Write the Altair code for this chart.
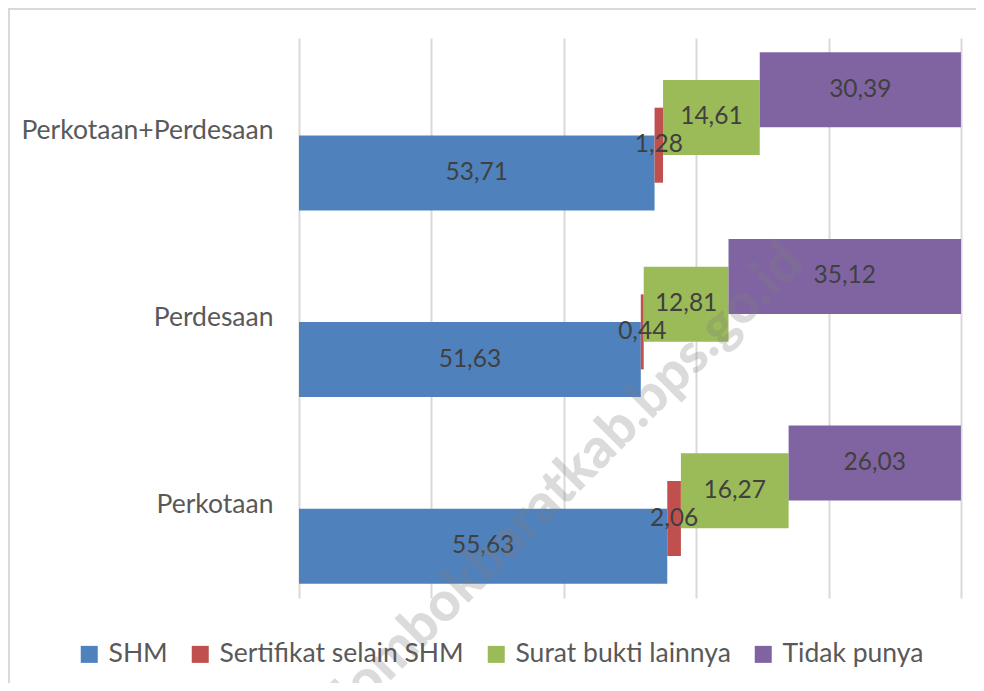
import altair as alt
import pandas as pd

categories = ["Perkotaan+Perdesaan", "Perdesaan", "Perkotaan"]
series = ["SHM", "Sertifikat selain SHM", "Surat bukti lainnya", "Tidak punya"]
colors = ["#4F81BD", "#C0504D", "#9BBB59", "#8064A2"]

shm = [53.71, 51.63, 55.63]
sertifikat = [1.28, 0.44, 2.06]
surat = [14.61, 12.81, 16.27]
tidak = [30.39, 35.12, 26.03]

grid_values = [0, 20, 40, 60, 80, 100]
watermark = "lombokbaratkab.bps.go.id"

rows = []
for s_i, (name, vals) in enumerate(zip(series, [shm, sertifikat, surat, tidak])):
    for c_i, cat in enumerate(categories):
        rows.append({"category": cat, "series": name, "value": vals[c_i], "order": s_i})
df = pd.DataFrame(rows)

FONT = "Lato"

base = alt.Chart(df).transform_window(
    cum="sum(value)", sort=[alt.SortField("order")], groupby=["category"], frame=[None, 0]
).transform_calculate(
    start="datum.cum - datum.value",
    mid="datum.cum - datum.value / 2",
    label="replace(format(datum.value, '.2f'), '.', ',')",
)

y_enc = alt.Y(
    "category:N",
    sort=categories,
    scale=alt.Scale(paddingInner=0.406, paddingOuter=0.203),
    axis=alt.Axis(
        title=None, domain=False, ticks=False, labelPadding=26, labelLimit=0,
        labelFontSize=26.5, labelColor="#595959", labelFont=FONT,
    ),
)
yoff_enc = alt.YOffset(
    "series:N",
    sort=list(reversed(series)),
    scale=alt.Scale(paddingInner=0, paddingOuter=0),
)

bars = base.mark_bar(height=75).encode(
    x=alt.X(
        "start:Q",
        scale=alt.Scale(domain=[0, 100], nice=False),
        axis=alt.Axis(
            title=None, labels=False, ticks=False, domain=False, grid=True,
            values=grid_values, gridColor="#d9d9d9", gridWidth=2,
        ),
    ),
    x2="cum:Q",
    y=y_enc,
    yOffset=yoff_enc,
    color=alt.Color(
        "series:N",
        sort=series,
        scale=alt.Scale(domain=series, range=colors),
        legend=alt.Legend(
            title=None, orient="none", legendX=-223, legendY=603, direction="horizontal",
            symbolType="square", symbolSize=289, symbolStrokeWidth=0,
            labelFontSize=26.5, labelFont=FONT, labelColor="#595959", labelLimit=0,
            labelOffset=6, columnPadding=19, columns=4,
        ),
    ),
    order=alt.Order("order:Q"),
)

labels = base.mark_text(fontSize=24.5, font=FONT, color="#404040", baseline="middle").encode(
    x="mid:Q",
    y=alt.Y("category:N", sort=categories),
    yOffset=alt.YOffset("series:N", sort=list(reversed(series))),
    text="label:N",
)

wm = alt.Chart(pd.DataFrame({"t": [watermark]})).mark_text(
    angle=315, fontSize=55, font=FONT, fontWeight=900, color="#7f7f7f", opacity=0.28,
    align="center", baseline="middle",
).encode(x=alt.value(270), y=alt.value(440), text="t:N")

top_border = alt.Chart(pd.DataFrame({"a": [0]})).mark_rule(color="#d9d9d9", strokeWidth=2).encode(
    x=alt.value(-291), x2=alt.value(690), y=alt.value(-29)
)
left_border = alt.Chart(pd.DataFrame({"a": [0]})).mark_rule(color="#d9d9d9", strokeWidth=2).encode(
    x=alt.value(-290), y=alt.value(-30), y2=alt.value(660)
)

chart = alt.layer(bars, labels, wm, top_border, left_border).properties(
    width=662, height=560,
    autosize=alt.AutoSizeParams(type="none"),
    padding={"left": 291, "top": 30, "right": 15, "bottom": 85},
).configure_view(strokeWidth=0)

chart.save("out.html", embed_options={"renderer": "svg", "actions": False})
